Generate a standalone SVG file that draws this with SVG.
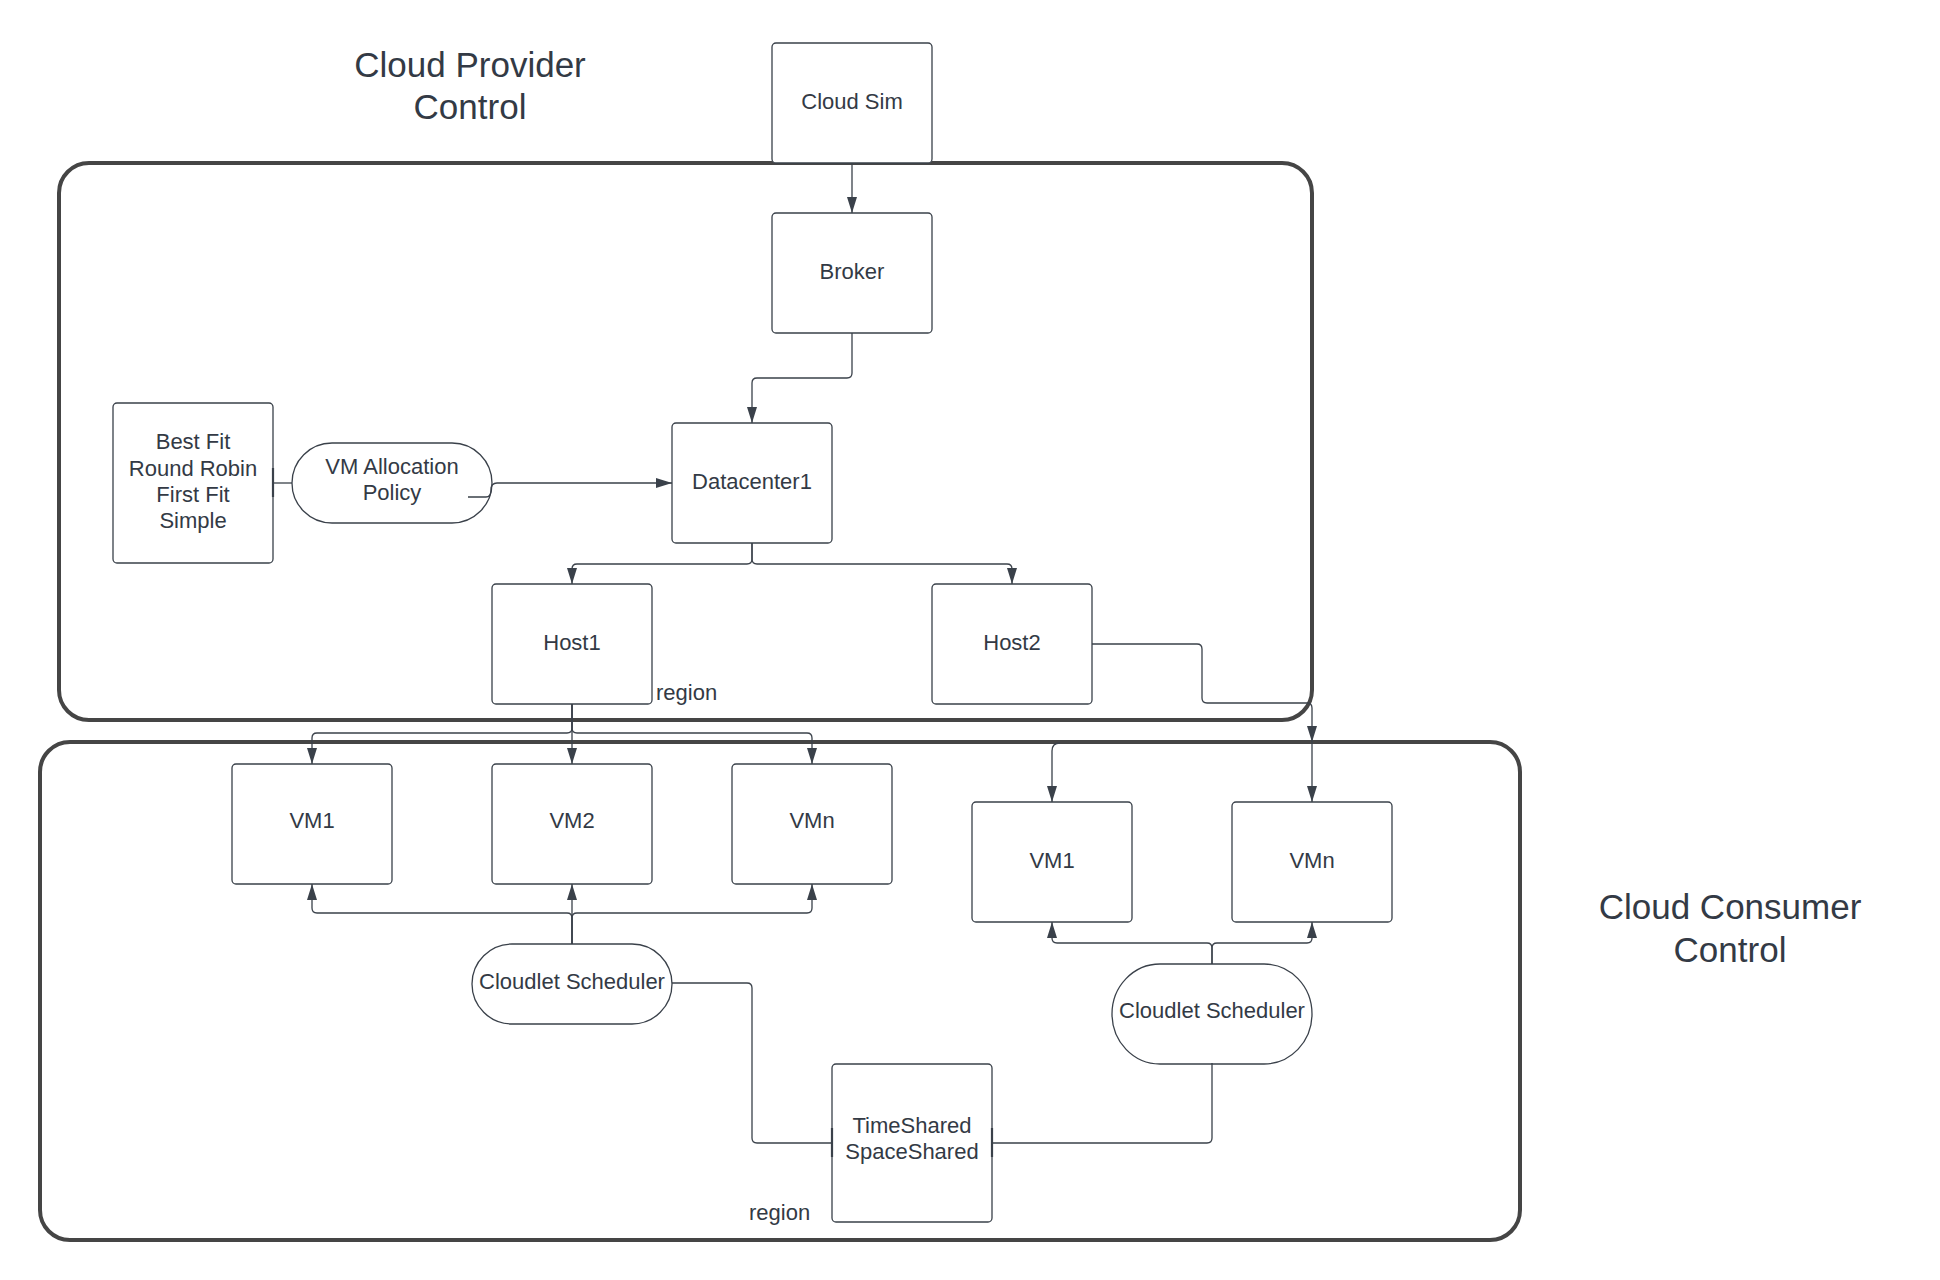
<svg xmlns="http://www.w3.org/2000/svg" width="1940" height="1280" viewBox="0 0 1940 1280">
<style>
  text { font-family: "Liberation Sans", Arial, sans-serif; fill: #333a45; }
  .t { font-size: 22px; text-anchor: middle; }
  .title { font-size: 35px; text-anchor: middle; }
  .lbl { font-size: 22px; text-anchor: start; }
  .box { fill: #ffffff; stroke: #3a414a; stroke-width: 1.3; }
  .cont { fill: none; stroke: #454545; stroke-width: 4; }
  .c { fill: none; stroke: #3a414a; stroke-width: 1.3; }
  .ca { fill: none; stroke: #3a414a; stroke-width: 1.3; marker-end: url(#arr); }
  .tick { fill: none; stroke: #3a414a; stroke-width: 2.2; }
</style>
<defs>
  <marker id="arr" viewBox="0 0 16 10" refX="16" refY="5" markerWidth="16" markerHeight="10" orient="auto" markerUnits="userSpaceOnUse">
    <path d="M0,0 L16,5 L0,10 z" fill="#3a414a"/>
  </marker>
</defs>
<rect width="1940" height="1280" fill="#ffffff"/>

<g id="titles">
  <text class="title" x="470" y="77">Cloud Provider</text>
  <text class="title" x="470" y="119">Control</text>
  <text class="title" x="1730" y="919">Cloud Consumer</text>
  <text class="title" x="1730" y="962">Control</text>
</g>

<g id="containers">
  <rect id="provider-region" class="cont" x="59" y="163" width="1253" height="557" rx="30" ry="30"/>
  <rect id="consumer-region" class="cont" x="40" y="742" width="1480" height="498" rx="30" ry="30"/>
  <text class="lbl" x="656" y="700">region</text>
  <text class="lbl" x="749" y="1220">region</text>
</g>

<g id="cloudsim">
  <rect class="box" x="772" y="43" width="160" height="120" rx="4"/>
  <text class="t" x="852" y="109">Cloud Sim</text>
</g>
<g id="broker">
  <rect class="box" x="772" y="213" width="160" height="120" rx="4"/>
  <text class="t" x="852" y="279">Broker</text>
</g>
<g id="datacenter1">
  <rect class="box" x="672" y="423" width="160" height="120" rx="4"/>
  <text class="t" x="752" y="489">Datacenter1</text>
</g>
<g id="policies">
  <rect class="box" x="113" y="403" width="160" height="160" rx="4"/>
  <text class="t" x="193" y="449">Best Fit</text>
  <text class="t" x="193" y="476">Round Robin</text>
  <text class="t" x="193" y="502">First Fit</text>
  <text class="t" x="193" y="528">Simple</text>
</g>
<g id="vm-allocation-policy">
  <rect class="box" x="292" y="443" width="200" height="80" rx="40" ry="40"/>
  <text class="t" x="392" y="474">VM Allocation</text>
  <text class="t" x="392" y="500">Policy</text>
</g>
<g id="host1">
  <rect class="box" x="492" y="584" width="160" height="120" rx="4"/>
  <text class="t" x="572" y="650">Host1</text>
</g>
<g id="host2">
  <rect class="box" x="932" y="584" width="160" height="120" rx="4"/>
  <text class="t" x="1012" y="650">Host2</text>
</g>
<g id="vm1-a">
  <rect class="box" x="232" y="764" width="160" height="120" rx="4"/>
  <text class="t" x="312" y="828">VM1</text>
</g>
<g id="vm2-a">
  <rect class="box" x="492" y="764" width="160" height="120" rx="4"/>
  <text class="t" x="572" y="828">VM2</text>
</g>
<g id="vmn-a">
  <rect class="box" x="732" y="764" width="160" height="120" rx="4"/>
  <text class="t" x="812" y="828">VMn</text>
</g>
<g id="vm1-b">
  <rect class="box" x="972" y="802" width="160" height="120" rx="4"/>
  <text class="t" x="1052" y="868">VM1</text>
</g>
<g id="vmn-b">
  <rect class="box" x="1232" y="802" width="160" height="120" rx="4"/>
  <text class="t" x="1312" y="868">VMn</text>
</g>
<g id="cloudlet-scheduler-a">
  <rect class="box" x="472" y="944" width="200" height="80" rx="40" ry="40"/>
  <text class="t" x="572" y="989">Cloudlet Scheduler</text>
</g>
<g id="cloudlet-scheduler-b">
  <rect class="box" x="1112" y="964" width="200" height="100" rx="48" ry="50"/>
  <text class="t" x="1212" y="1018">Cloudlet Scheduler</text>
</g>
<g id="scheduler-types">
  <rect class="box" x="832" y="1064" width="160" height="158" rx="4"/>
  <text class="t" x="912" y="1133">TimeShared</text>
  <text class="t" x="912" y="1159">SpaceShared</text>
</g>

<g id="connectors">
  <path class="ca" d="M852,163 L852,213"/>
  <path class="ca" d="M852,333 L852,373 Q852,378 847,378 L757,378 Q752,378 752,383 L752,423"/>
  <path class="c" d="M273,483 L292,483"/>
  <path class="tick" d="M273,468 L273,497"/>
  <path class="ca" d="M468,497 L486,497 Q491,497 491,490 Q491,483 497,483 L672,483"/>
  <path class="ca" d="M752,543 L752,559 Q752,564 747,564 L577,564 Q572,564 572,569 L572,584"/>
  <path class="ca" d="M752,543 L752,559 Q752,564 757,564 L1007,564 Q1012,564 1012,569 L1012,584"/>
  <path class="ca" d="M572,704 L572,728 Q572,733 567,733 L317,733 Q312,733 312,738 L312,764"/>
  <path class="ca" d="M572,704 L572,764"/>
  <path class="ca" d="M572,704 L572,728 Q572,733 577,733 L807,733 Q812,733 812,738 L812,764"/>
  <path class="ca" d="M1092,644 L1197,644 Q1202,644 1202,649 L1202,698 Q1202,703 1207,703 L1307,703 Q1312,703 1312,708 L1312,742"/>
  <path class="ca" d="M1312,742 L1312,802"/>
  <path class="ca" d="M1060,743 Q1052,743 1052,751 L1052,802"/>
  <path class="ca" d="M572,944 L572,884"/>
  <path class="ca" d="M572,944 L572,918 Q572,913 567,913 L317,913 Q312,913 312,908 L312,884"/>
  <path class="ca" d="M572,944 L572,918 Q572,913 577,913 L807,913 Q812,913 812,908 L812,884"/>
  <path class="ca" d="M1212,964 L1212,948 Q1212,943 1207,943 L1057,943 Q1052,943 1052,938 L1052,922"/>
  <path class="ca" d="M1212,964 L1212,948 Q1212,943 1217,943 L1307,943 Q1312,943 1312,938 L1312,922"/>
  <path class="c" d="M672,983 L747,983 Q752,983 752,988 L752,1138 Q752,1143 757,1143 L832,1143"/>
  <path class="tick" d="M832,1128 L832,1157"/>
  <path class="c" d="M1212,1063 L1212,1138 Q1212,1143 1207,1143 L992,1143"/>
  <path class="tick" d="M992,1128 L992,1157"/>
</g>
</svg>
